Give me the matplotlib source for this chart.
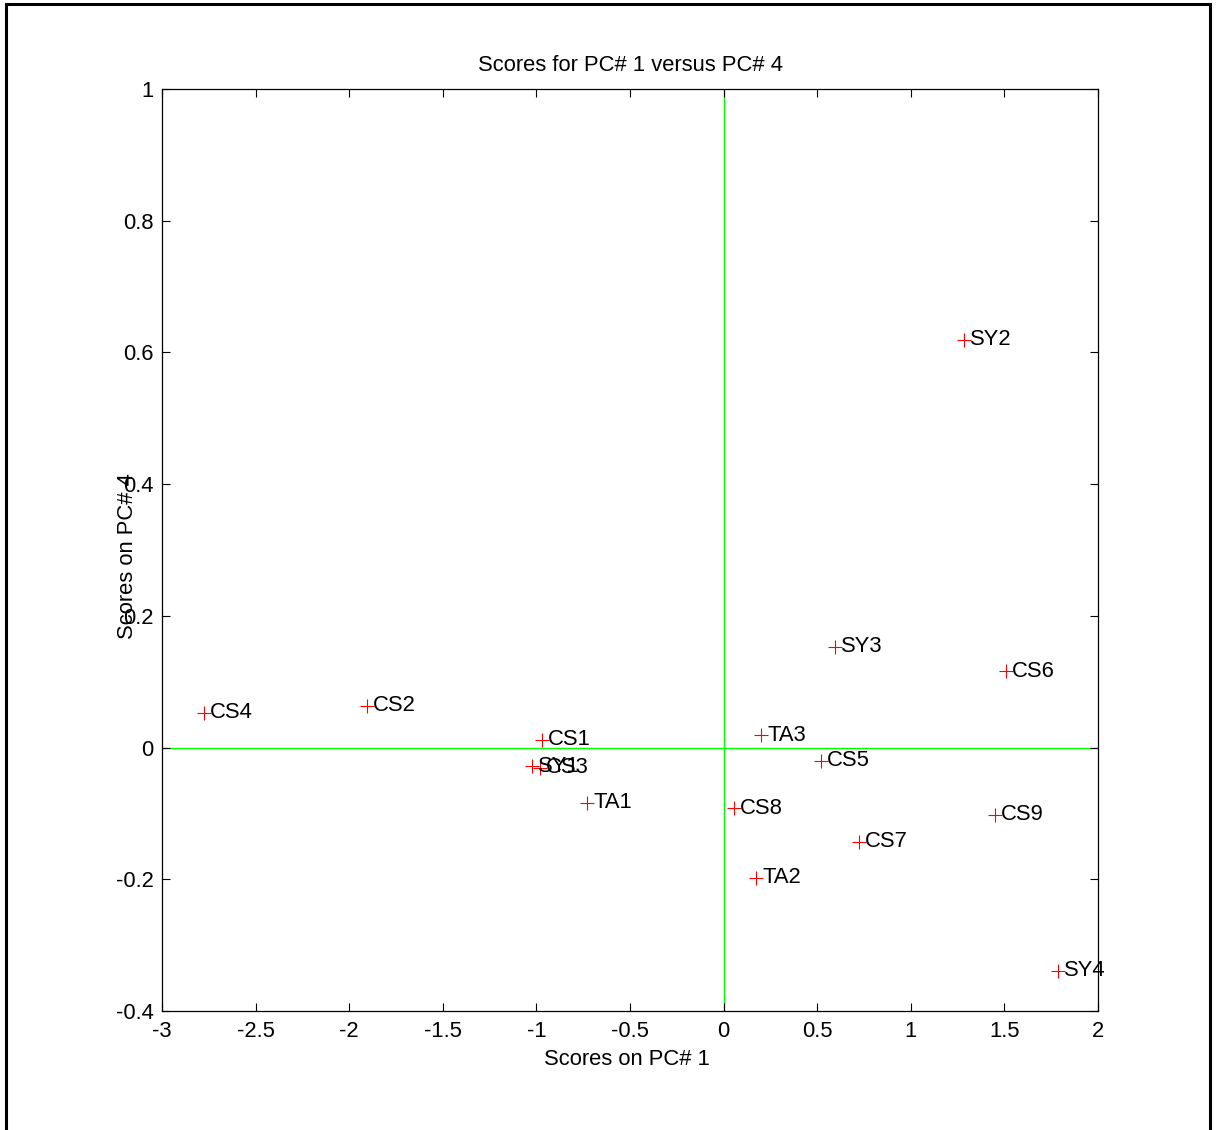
import matplotlib

matplotlib.use("Agg")
import matplotlib.pyplot as plt
from matplotlib.lines import Line2D

plt.rcParams["font.family"] = ["Liberation Sans", "DejaVu Sans"]

# sample names and scores
names = ["CS4", "CS2", "CS1", "SY1", "CS3", "TA1", "TA3", "CS5", "CS8",
         "CS7", "TA2", "SY3", "CS6", "CS9", "SY2", "SY4"]
pc1 = [-2.776, -1.905, -0.970, -1.023, -0.981, -0.730, 0.200, 0.520, 0.056,
       0.723, 0.173, 0.595, 1.509, 1.450, 1.284, 1.786]
pc4 = [0.0525, 0.0632, 0.0115, -0.028, -0.031, -0.084, 0.019, -0.020, -0.092,
       -0.143, -0.198, 0.153, 0.116, -0.102, 0.619, -0.339]

xticks = [-3, -2.5, -2, -1.5, -1, -0.5, 0, 0.5, 1, 1.5, 2]
xticklabels = ["-3", "-2.5", "-2", "-1.5", "-1", "-0.5", "0", "0.5", "1", "1.5", "2"]
yticks = [-0.4, -0.2, 0, 0.2, 0.4, 0.6, 0.8, 1]
yticklabels = ["-0.4", "-0.2", "0", "0.2", "0.4", "0.6", "0.8", "1"]

FS = 15.8

fig = plt.figure(figsize=(12.16, 11.3), dpi=100, facecolor="white")
ax = fig.add_axes([162 / 1216, 1 - 1011 / 1130, 936 / 1216, 922 / 1130])

# outer frame (bottom edge is cut off in the reference)
for xs, ys in [((6 / 1216, 6 / 1216), (0, 1 - 4 / 1130)),
               ((6 / 1216, 1210 / 1216), (1 - 4 / 1130, 1 - 4 / 1130)),
               ((1210 / 1216, 1210 / 1216), (0, 1 - 4 / 1130))]:
    fig.add_artist(Line2D(xs, ys, transform=fig.transFigure, color="black", lw=2.2))

ax.axhline(0, color="#00ff00", lw=1, zorder=1)
ax.axvline(0, color="#00ff00", lw=1, zorder=1)

ax.plot(pc1, pc4, linestyle="none", marker="+", color="red",
        markersize=10.5, markeredgewidth=0.8, zorder=3)
for name, x, y in zip(names, pc1, pc4):
    ax.annotate(name, (x, y), xytext=(4.5, 0), textcoords="offset points",
                ha="left", va="center", fontsize=FS, color="black", zorder=4)

ax.set_xlim(-3, 2)
ax.set_ylim(-0.4, 1)
ax.set_xticks(xticks)
ax.set_xticklabels(xticklabels)
ax.set_yticks(yticks)
ax.set_yticklabels(yticklabels)
ax.tick_params(direction="in", length=6, width=0.8, top=True, right=True,
               labelsize=FS)
ax.tick_params(axis="x", pad=7)
ax.tick_params(axis="y", pad=6)
for sp in ax.spines.values():
    sp.set_linewidth(0.9)

ax.set_title("Scores for PC# 1 versus PC# 4", fontsize=FS, pad=13)
ax.set_xlabel("Scores on PC# 1", fontsize=FS)
ax.xaxis.set_label_coords(0.497, -0.041)
ax.set_ylabel("Scores on PC# 4", fontsize=FS)
ax.yaxis.set_label_coords(-0.026, 0.493)

fig.savefig("out.png", dpi=100, facecolor="white")
